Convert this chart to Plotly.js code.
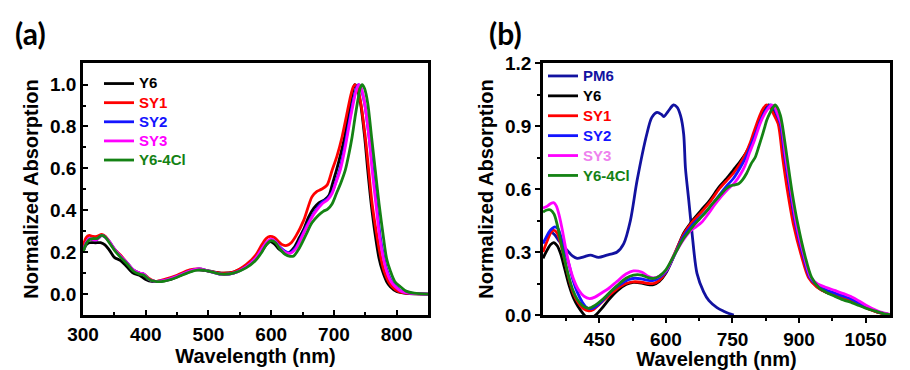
<!DOCTYPE html>
<html>
<head>
<meta charset="utf-8">
<script src="https://cdn.plot.ly/plotly-3.0.1.min.js"></script>
<style>html,body{margin:0;padding:0;background:#fff;}#chart{width:910px;height:370px;}</style>
</head>
<body>
<div id="chart"></div>
<script>
// ---------- Panel (a): acceptor solutions ----------
const seriesNamesA = ['Y6', 'SY1', 'SY2', 'SY3', 'Y6-4Cl'];

const aY6x = [300,305,310,320,328,335,342,350,360,370,380,390,400,410,420,440,460,480,500,520,540,560,575,585,592,598,605,612,620,628,636,645,652,660,668,676,685,692,698,704,711,717,723,728,733,737,742.5,749,754,759.5,766.5,772,777,784,790,800,815,850];
const aY6y = [0.20,0.235,0.245,0.245,0.245,0.235,0.21,0.175,0.16,0.13,0.10,0.09,0.07,0.06,0.06,0.07,0.095,0.115,0.11,0.10,0.105,0.135,0.17,0.205,0.235,0.25,0.24,0.215,0.20,0.197,0.22,0.27,0.31,0.37,0.41,0.435,0.45,0.47,0.53,0.59,0.67,0.75,0.85,0.94,1.0,0.98,0.91,0.75,0.59,0.43,0.27,0.17,0.114,0.06,0.035,0.012,0.003,0.0];

const aSY1x = [300,305,310,316,322,330,336,342,350,360,370,380,390,397,405,415,430,450,470,485,500,520,540,560,575,585,592,598,605,612,618,625,632,640,652,665,673,680,689,697,705,713,720,727,731,734,738,743,750,755.5,761,769,775,780,787,793,803,815,850];
const aSY1y = [0.225,0.27,0.28,0.275,0.275,0.285,0.275,0.25,0.215,0.185,0.15,0.115,0.10,0.095,0.075,0.06,0.07,0.09,0.115,0.12,0.11,0.10,0.105,0.14,0.185,0.235,0.265,0.275,0.27,0.25,0.235,0.232,0.245,0.28,0.353,0.464,0.49,0.50,0.52,0.59,0.66,0.75,0.85,0.95,0.99,1.0,0.98,0.91,0.75,0.59,0.43,0.27,0.17,0.11,0.06,0.035,0.012,0.004,0.0];

const aSY2x = [300,305,310,316,322,330,336,342,350,360,370,380,390,397,405,415,430,450,470,485,500,520,540,560,575,585,592,600,607,614,622,630,640,650,660,670,680,690,697,703,709,715,720,726,732,736,739,743,749,756,762,768,774,780,785,792,799,809,821,850];
const aSY2y = [0.20,0.245,0.265,0.26,0.26,0.28,0.27,0.25,0.215,0.18,0.15,0.115,0.10,0.095,0.07,0.06,0.065,0.085,0.11,0.12,0.11,0.095,0.10,0.13,0.17,0.215,0.245,0.26,0.25,0.225,0.205,0.197,0.225,0.285,0.345,0.395,0.435,0.455,0.485,0.535,0.59,0.67,0.75,0.85,0.94,0.985,1.0,0.98,0.91,0.75,0.59,0.43,0.27,0.17,0.11,0.06,0.035,0.012,0.004,0.0];

const aSY3x = [300,305,310,316,322,330,336,342,350,360,370,380,390,397,405,415,430,450,470,485,500,520,540,560,575,585,592,600,607,614,622,631,640,650,660,670,681,690,697,703,710,716,721,727,733,737,740,744,749,756,761,767,773,779,784,791,798,808,820,850];
const aSY3y = [0.20,0.245,0.265,0.26,0.26,0.28,0.27,0.25,0.215,0.18,0.15,0.115,0.10,0.095,0.07,0.06,0.065,0.085,0.11,0.12,0.11,0.095,0.10,0.13,0.17,0.215,0.245,0.262,0.25,0.22,0.20,0.195,0.22,0.28,0.34,0.39,0.43,0.45,0.48,0.53,0.59,0.67,0.75,0.85,0.94,0.985,1.0,0.98,0.91,0.75,0.59,0.43,0.27,0.17,0.11,0.06,0.035,0.012,0.004,0.0];

const aY64x = [300,305,310,316,322,330,336,342,350,360,370,380,390,397,405,415,430,450,470,485,500,520,540,560,575,585,592,600,607,614,622,630,636,645,655,665,675,683,690,697,704,711,718,724,729,734,739,742,745,749,754,760,766,772,779,784,790,797,806,815,828,850];
const aY64y = [0.20,0.24,0.26,0.265,0.265,0.28,0.27,0.245,0.21,0.175,0.145,0.11,0.095,0.09,0.07,0.06,0.062,0.08,0.105,0.115,0.11,0.095,0.10,0.125,0.16,0.20,0.235,0.255,0.245,0.215,0.19,0.18,0.182,0.22,0.28,0.34,0.375,0.395,0.405,0.43,0.48,0.53,0.59,0.67,0.75,0.85,0.94,0.985,1.0,0.98,0.91,0.75,0.59,0.43,0.27,0.17,0.11,0.06,0.035,0.014,0.004,0.0];

// ---------- Panel (b): films ----------
const seriesNamesB = ['PM6', 'Y6', 'SY1', 'SY2', 'SY3', 'Y6-4Cl'];

const bPM6x = [340,350,360,377,390,400,415,430,448,467,490,505,520,535,557,568,580,590,595,605,617,625,633,640,644,651.5,659,670,685,697,715,730,742,753];
const bPM6y = [0.40,0.38,0.35,0.309,0.28,0.27,0.277,0.285,0.274,0.285,0.30,0.34,0.45,0.64,0.862,0.94,0.965,0.955,0.945,0.97,1.0,0.99,0.949,0.862,0.70,0.546,0.388,0.198,0.11,0.068,0.035,0.018,0.007,0.0];

const bY6x = [323,330,340,347,355,363,372,382,392,402,412,422,432,442,455,470,490,510,527,545,560,572,585,600,620,640,660,680,700,720,737,752,767,780,790,801,812,822,831,838,846,855,865,877,889,909,923,941,960,980,1000,1020,1040,1060,1080,1105];
const bY6y = [0.27,0.30,0.335,0.345,0.33,0.29,0.22,0.14,0.08,0.04,0.01,-0.012,-0.015,0.0,0.03,0.07,0.115,0.145,0.155,0.152,0.145,0.145,0.16,0.20,0.29,0.39,0.45,0.50,0.55,0.61,0.65,0.69,0.73,0.77,0.81,0.87,0.93,0.975,1.0,0.99,0.955,0.91,0.75,0.59,0.435,0.277,0.18,0.134,0.11,0.095,0.08,0.065,0.045,0.027,0.012,0.002];

const bSY1x = [323,330,340,347,355,363,372,382,392,402,414,426,436,450,470,490,510,527,545,560,572,585,600,620,640,660,680,700,720,737,752,767,780,790,798,808,817,826,834,843,853,863,874,887,906,921,940,960,980,1000,1020,1040,1060,1080,1105];
const bSY1y = [0.30,0.34,0.39,0.404,0.39,0.34,0.26,0.17,0.10,0.06,0.03,0.02,0.025,0.05,0.09,0.125,0.15,0.158,0.156,0.15,0.15,0.165,0.205,0.295,0.385,0.445,0.49,0.54,0.60,0.64,0.675,0.72,0.77,0.82,0.87,0.93,0.975,1.0,0.99,0.955,0.91,0.75,0.59,0.435,0.277,0.18,0.134,0.11,0.095,0.08,0.065,0.045,0.027,0.011,0.002];

const bSY2x = [323,330,340,350,357,365,373,381,390,400,412,422,432,445,460,480,500,515,530,545,560,572,585,600,620,640,660,680,700,720,737,752,767,780,792,805,815,825,835,842,850,858,868,880,892,910,924,942,960,980,1000,1020,1040,1060,1080,1105];
const bSY2y = [0.34,0.37,0.405,0.42,0.41,0.36,0.30,0.245,0.17,0.11,0.06,0.035,0.03,0.045,0.075,0.12,0.15,0.168,0.175,0.172,0.165,0.165,0.178,0.205,0.29,0.375,0.43,0.47,0.515,0.57,0.615,0.65,0.70,0.75,0.81,0.88,0.935,0.975,1.0,0.99,0.955,0.91,0.75,0.59,0.435,0.277,0.18,0.14,0.12,0.105,0.09,0.074,0.052,0.032,0.014,0.002];

const bSY3x = [323,330,340,347,353,360,367,374,382,392,403,415,428,440,455,470,490,510,527,545,560,572,585,600,620,640,655,668,680,695,710,725,740,755,768,778,788,800,812,822,831,838,845,852,860,870,882,894,912,926,942,960,980,1000,1020,1035,1050,1070,1090,1105];
const bSY3y = [0.51,0.515,0.53,0.535,0.52,0.47,0.40,0.32,0.24,0.17,0.12,0.09,0.078,0.085,0.105,0.125,0.16,0.195,0.21,0.205,0.185,0.177,0.185,0.21,0.29,0.36,0.40,0.42,0.44,0.48,0.525,0.565,0.60,0.63,0.67,0.71,0.77,0.835,0.91,0.955,0.985,1.0,0.99,0.955,0.91,0.75,0.59,0.435,0.277,0.18,0.148,0.132,0.117,0.102,0.085,0.067,0.048,0.026,0.01,0.003];

const bY64x = [323,332,340,348,355,362,370,380,390,400,412,426,440,455,470,490,510,527,545,560,572,585,600,620,640,660,675,690,705,722,735,745,755,764,773,782,792,801,809,816,822,827,834,842,846,852,858,862,873,884,897,914,928,945,960,980,1000,1020,1035,1050,1070,1090,1105];
const bY64y = [0.49,0.50,0.50,0.48,0.43,0.36,0.28,0.19,0.12,0.075,0.045,0.032,0.045,0.07,0.10,0.14,0.175,0.19,0.19,0.178,0.174,0.185,0.215,0.29,0.365,0.42,0.455,0.49,0.53,0.57,0.60,0.615,0.62,0.625,0.645,0.675,0.72,0.75,0.80,0.847,0.89,0.926,0.96,0.99,1.0,0.985,0.95,0.91,0.75,0.59,0.435,0.277,0.18,0.13,0.11,0.09,0.072,0.058,0.045,0.033,0.02,0.007,0.002];

// ---------- styles ----------
const colA = {'Y6':'#000000','SY1':'#ff0000','SY2':'#1414ff','SY3':'#ff00ff','Y6-4Cl':'#148214'};
const txtA = {'Y6':'#000000','SY1':'#ff0000','SY2':'#1414ff','SY3':'#ff00ff','Y6-4Cl':'#148214'};
const colB = {'PM6':'#1212a0','Y6':'#000000','SY1':'#ff0000','SY2':'#1414ff','SY3':'#ff00ff','Y6-4Cl':'#148214'};
const txtB = {'PM6':'#1212a0','Y6':'#000000','SY1':'#ff0000','SY2':'#1414ff','SY3':'#ee82ee','Y6-4Cl':'#148214'};

const dataA = [[aY6x,aY6y],[aSY1x,aSY1y],[aSY2x,aSY2y],[aSY3x,aSY3y],[aY64x,aY64y]];
const dataB = [[bPM6x,bPM6y],[bY6x,bY6y],[bSY1x,bSY1y],[bSY2x,bSY2y],[bSY3x,bSY3y],[bY64x,bY64y]];

const traces = [];
seriesNamesA.forEach((n,i)=>{
  traces.push({type:'scatter', mode:'lines', x:dataA[i][0], y:dataA[i][1], xaxis:'x', yaxis:'y',
    name:'<span style="font-size:15px;color:'+txtA[n]+'">'+n+'</span>',
    line:{color:colA[n], width:2.8, shape:'spline', smoothing:0.8}, legend:'legend', hoverinfo:'skip'});
});
seriesNamesB.forEach((n,i)=>{
  traces.push({type:'scatter', mode:'lines', x:dataB[i][0], y:dataB[i][1], xaxis:'x2', yaxis:'y2',
    name:'<span style="font-size:15px;color:'+txtB[n]+'">'+n+'</span>',
    line:{color:colB[n], width:2.8, shape:'spline', smoothing:0.8}, legend:'legend2', hoverinfo:'skip'});
});

const FONT = 'Liberation Sans, Arial, sans-serif';
const yDom = [1-315/370, 1-63/370];
const axCommon = {showline:true, linewidth:2.8, linecolor:'#000', mirror:true, showgrid:false, zeroline:false,
  tickcolor:'#000', tickwidth:2, tickfont:{family:FONT, size:19, weight:'bold', color:'#000'}};

const layout = {
  width:910, height:370, margin:{l:0,r:0,t:0,b:0},
  paper_bgcolor:'#fff', plot_bgcolor:'#fff',
  font:{family:FONT, color:'#000'},
  showlegend:true,
  xaxis:Object.assign({}, axCommon, {domain:[83/910, 428/910], range:[300,850], anchor:'y',
    tick0:300, dtick:100, ticks:'inside', ticklen:5,
    minor:{dtick:50, ticks:'inside', ticklen:3, tickwidth:2, tickcolor:'#000'},
    title:{text:'Wavelength (nm)', font:{family:FONT, size:20, weight:'bold', color:'#000'}, standoff:3}}),
  yaxis:Object.assign({}, axCommon, {domain:yDom, range:[-0.1,1.103], anchor:'x',
    tick0:0, dtick:0.2, tickformat:'.1f', ticks:'inside', ticklen:5,
    minor:{dtick:0.1, ticks:'inside', ticklen:3, tickwidth:2, tickcolor:'#000'},
    title:{text:'Normalized Absorption', font:{family:FONT, size:20, weight:'bold', color:'#000'}, standoff:6}}),
  xaxis2:Object.assign({}, axCommon, {domain:[543/910, 890/910], range:[323,1105], anchor:'y2',
    tick0:450, dtick:150, ticks:'outside', ticklen:5,
    minor:{dtick:75, ticks:'outside', ticklen:3, tickwidth:2, tickcolor:'#000'},
    title:{text:'Wavelength (nm)', font:{family:FONT, size:20, weight:'bold', color:'#000'}, standoff:4}}),
  yaxis2:Object.assign({}, axCommon, {domain:yDom, range:[0,1.2], anchor:'x2',
    tick0:0, dtick:0.3, tickformat:'.1f', ticks:'outside', ticklen:5,
    minor:{dtick:0.15, ticks:'outside', ticklen:3, tickwidth:2, tickcolor:'#000'},
    title:{text:'Normalized Absorption', font:{family:FONT, size:20, weight:'bold', color:'#000'}, standoff:6}}),
  legend:{x:99/910, xanchor:'left', y:1-69/370, yanchor:'top', bgcolor:'rgba(0,0,0,0)', borderwidth:0,
    font:{family:FONT, size:12.4, weight:'bold'}, traceorder:'normal', itemwidth:30, itemclick:false},
  legend2:{x:543/910, xanchor:'left', y:1-61/370, yanchor:'top', bgcolor:'rgba(0,0,0,0)', borderwidth:0,
    font:{family:FONT, size:13, weight:'bold'}, traceorder:'normal', itemwidth:30, itemclick:false},
  annotations:[
    {text:'(a)', xref:'paper', yref:'paper', x:30/910, y:1-33/370, xanchor:'center', yanchor:'middle', showarrow:false,
     font:{family:'Lato, Open Sans, sans-serif', size:30, weight:'bold', color:'#000'}},
    {text:'(b)', xref:'paper', yref:'paper', x:505/910, y:1-33/370, xanchor:'center', yanchor:'middle', showarrow:false,
     font:{family:'Lato, Open Sans, sans-serif', size:30, weight:'bold', color:'#000'}}
  ]
};

Plotly.newPlot('chart', traces, layout, {staticPlot:true, displayModeBar:false});
</script>
</body>
</html>
